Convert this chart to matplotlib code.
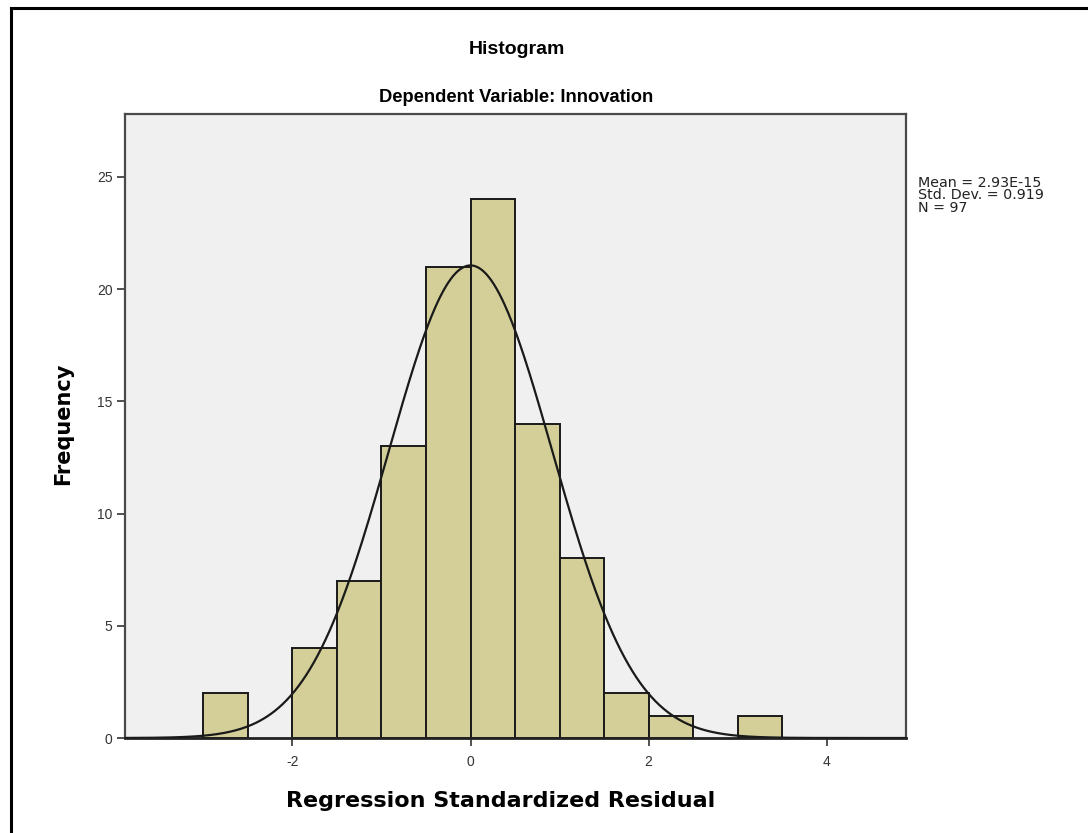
import numpy as np
import matplotlib
matplotlib.use("Agg")
import matplotlib.pyplot as plt

# Histogram of regression standardized residuals
bin_left = [-3.0, -2.5, -2.0, -1.5, -1.0, -0.5, 0.0, 0.5, 1.0, 1.5, 2.0, 2.5, 3.0]
counts = [2, 0, 4, 7, 13, 21, 24, 14, 8, 2, 1, 0, 1]
bin_width = 0.5
mean = 2.93e-15
std_dev = 0.919
n_obs = 97
x_ticks = [-2, 0, 2, 4]
y_ticks = [0, 5, 10, 15, 20, 25]

plt.rcParams["font.family"] = ["Liberation Sans", "DejaVu Sans"]
plt.rcParams["axes.unicode_minus"] = False

fig = plt.figure(figsize=(10.88, 8.33), dpi=100)
fig.patch.set_facecolor("white")

# outer frame (left and top edges)
fig.add_artist(plt.Line2D([11 / 1088, 11 / 1088], [0, 1 - 8 / 833],
                          transform=fig.transFigure, color="black", lw=2.2))
fig.add_artist(plt.Line2D([11 / 1088, 1], [1 - 8 / 833, 1 - 8 / 833],
                          transform=fig.transFigure, color="black", lw=2.2))

ax = fig.add_axes([125 / 1088, 95 / 833, 781 / 1088, 624 / 833])
ax.set_facecolor("#f0f0f0")

for left, c in zip(bin_left, counts):
    if c > 0:
        ax.bar(left, c, width=bin_width, align="edge", color="#d4cf99",
               edgecolor="#1a1a1a", linewidth=1.4, zorder=2)

xs = np.linspace(-3.88, 4.89, 600)
pdf = n_obs * bin_width / (std_dev * np.sqrt(2 * np.pi)) * np.exp(-0.5 * ((xs - mean) / std_dev) ** 2)
ax.plot(xs, pdf, color="#1a1a1a", lw=1.6, zorder=3)

ax.set_xlim(-3.88, 4.89)
ax.set_ylim(0, 27.8)
ax.set_xticks(x_ticks)
ax.set_yticks(y_ticks)
ax.tick_params(axis="both", direction="out", length=6, width=1.2,
               labelsize=10, colors="#333333", pad=3)
ax.tick_params(axis="x", pad=6)

for side in ("left", "right", "top", "bottom"):
    ax.spines[side].set_color("#4a4a4a")
    ax.spines[side].set_linewidth(1.6)
ax.spines["bottom"].set_color("#222222")
ax.spines["bottom"].set_linewidth(2)

fig.text(517 / 1088, 1 - 50 / 833, "Histogram", ha="center", va="center",
         fontsize=14, fontweight="bold")
fig.text(516 / 1088, 1 - 97 / 833, "Dependent Variable: Innovation", ha="center",
         va="center", fontsize=13.2, fontweight="bold")

fig.text(501 / 1088, 1 - 801 / 833, "Regression Standardized Residual",
         ha="center", va="center", fontsize=16, fontweight="bold",
         family="DejaVu Sans")
fig.text(63 / 1088, 1 - 424 / 833, "Frequency", ha="center", va="center",
         rotation=90, fontsize=15, fontweight="bold", family="DejaVu Sans")

stats = f"Mean = {mean:.2E}".replace("E-015", "E-15") + f"\nStd. Dev. = {std_dev:.3f}\nN = {n_obs}"
fig.text(918 / 1088, 1 - 176 / 833, stats, ha="left", va="top", fontsize=10.3,
         color="#222222", linespacing=0.86, family="DejaVu Sans")

fig.savefig("out.png", dpi=100, facecolor="white")
